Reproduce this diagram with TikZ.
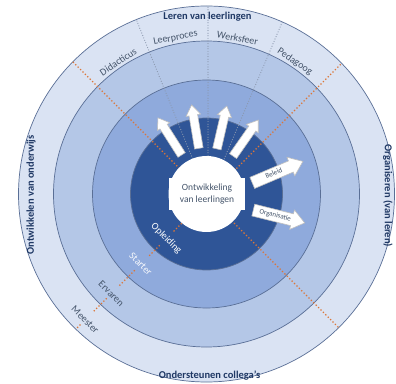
\documentclass[tikz,border=0pt]{standalone}
\usepackage{fontspec}
\setmainfont{Carlito}
\usetikzlibrary{shapes.arrows}
\definecolor{ringA}{HTML}{DAE3F3}
\definecolor{ringB}{HTML}{B4C7E7}
\definecolor{ringC}{HTML}{8FAADC}
\definecolor{ringD}{HTML}{2F5597}
\definecolor{edgecol}{HTML}{5A6F96}
\definecolor{txtcol}{HTML}{44546A}
\definecolor{navycol}{HTML}{1F3864}
\definecolor{orangedot}{HTML}{DC7638}
\definecolor{graydot}{HTML}{8A97AD}
\begin{document}
\begin{tikzpicture}[x=1pt,y=1pt,
  ringline/.style={draw=edgecol, line width=0.7pt},
  orangedots/.style={orangedot, line width=1.8pt, line cap=round, dash pattern=on 0pt off 3.4pt},
  graydots/.style={graydot, line width=1.2pt, line cap=round, dash pattern=on 0pt off 2.6pt},
  uparrow/.style={single arrow, draw=black!25, fill=white, line width=0.6pt,
    inner xsep=0pt, inner ysep=4pt, text height=0pt, text depth=0pt,
    minimum height=44pt, single arrow head extend=3pt,
    single arrow tip angle=70, anchor=tail},
  textarrow/.style={single arrow, draw=black!25, fill=white, line width=0.6pt,
    font=\fontsize{7}{8}\selectfont, text=txtcol, inner xsep=2pt, inner ysep=2.5pt,
    text height=5pt, text depth=1.5pt, single arrow head extend=4pt,
    single arrow tip angle=75, anchor=tail},
  sidelabel/.style={font=\fontsize{10.5}{12}\selectfont\bfseries, text=navycol, inner sep=0pt},
  seclabel/.style={font=\fontsize{10}{12}\selectfont, text=txtcol, inner sep=0pt},
  steplabel/.style={font=\fontsize{10}{12}\selectfont, inner sep=0pt, rotate=-45}
]
\useasboundingbox (0,0) rectangle (396,383);
\fill[white] (0,0) rectangle (396,383);
\coordinate (C) at (206.5,189);
\coordinate (O) at (208,186);
% rings
\draw[ringline, fill=ringA] (C) circle (188pt);
\draw[ringline, fill=ringB] (C) circle (153pt);
\draw[ringline, fill=ringC] (C) circle (114pt);
\draw[ringline, fill=ringD] (C) circle (76pt);
% dotted radial lines
\begin{scope}
  \clip (C) circle (188pt);
  \begin{scope}[shift={(O)}]
    \draw[graydots] (0,0) -- (112:200pt);
    \draw[graydots] (0,0) -- (90:200pt);
    \draw[graydots] (0,0) -- (67:200pt);
    \draw[orangedots] (0,0) -- (135:200pt);
    \draw[orangedots] (0,0) -- (45:200pt);
    \draw[orangedots] (0,0) -- (-45:200pt);
    \draw[orangedots] (225:37.8pt) -- (225:50.5pt);
    \draw[orangedots] (225:68.9pt) -- (225:83.1pt);
    \draw[orangedots] (225:104.2pt) -- (225:125.5pt);
    \draw[orangedots] (225:143.9pt) -- (225:163.7pt);
    \draw[orangedots] (225:181pt) -- (225:193pt);
  \end{scope}
\end{scope}
% step labels
\begin{scope}[shift={(O)}]
  \node[steplabel, text=white] (opl) at (225:59pt) {Opleiding};
  \node[steplabel, text=white!92!ringC] (sta) at (225:95pt) {Starter};
  \node[steplabel, text=txtcol] (erv) at (225:136.8pt) {Ervaren};
  \node[steplabel, text=txtcol] (mee) at (225:173.6pt) {Meester};
\end{scope}
% arrows
\begin{scope}[shift={(C)}]
  \node[uparrow, rotate=122.5] (a1) at (122.5:46pt) {};
  \node[uparrow, rotate=99.5] (a2) at (99.5:46pt) {};
  \node[uparrow, rotate=77] (a3) at (77:46pt) {};
  \node[uparrow, rotate=55] (a4) at (55:46pt) {};
\end{scope}
\node[textarrow, rotate=23, minimum height=55pt] (beleid) at (252,200) {Beleid};
\node[textarrow, rotate=-14, minimum height=53pt] (organ) at (253,173) {Organisatie};
% centre
\fill[white] (C) circle (38pt);
\node[fill=white, minimum width=76pt, minimum height=32pt, inner sep=0pt,
  align=center, font=\fontsize{9.5}{12}\selectfont, text=txtcol] (centre) at (207,189)
  {Ontwikkeling\\van leerlingen};
% sector labels
\begin{scope}[shift={(C)}]
  \node[seclabel, rotate=33.75] (did) at (123.75:159pt) {Didacticus};
  \node[seclabel, rotate=11.25] (lee) at (101.25:159pt) {Leerproces};
  \node[seclabel, rotate=-11.25] (wer) at (78.75:159pt) {Werksfeer};
  \node[seclabel, rotate=-33.75] (ped) at (56.25:159pt) {Pedagoog};
\end{scope}
% outer labels
\node[sidelabel] (top) at (207.5,366) {Leren van leerlingen};
\node[sidelabel] (bot) at (209.5,7) {Ondersteunen collega's};
\node[sidelabel, rotate=90] (lft) at (31,188) {Ontwikkelen van onderwijs};
\node[sidelabel, rotate=-90] (rgt) at (388,187) {Organiseren (van leren)};
\end{tikzpicture}
\end{document}
